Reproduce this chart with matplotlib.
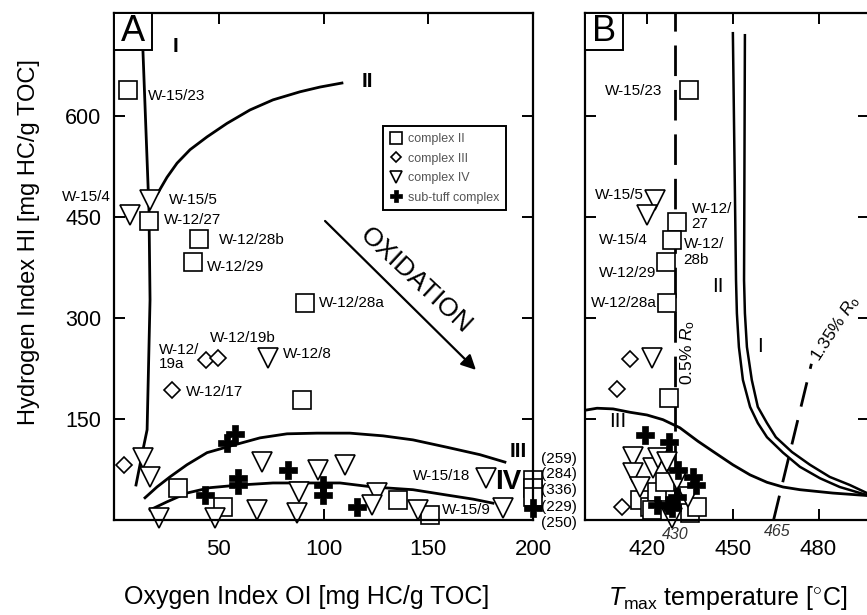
import matplotlib
matplotlib.use('Agg')
import matplotlib.pyplot as plt
from matplotlib.patches import Rectangle

plt.rcParams['font.family'] = ['Liberation Sans', 'DejaVu Sans']
plt.rcParams['mathtext.fontset'] = 'custom'
plt.rcParams['mathtext.rm'] = 'Liberation Sans'
plt.rcParams['mathtext.it'] = 'Liberation Sans:italic'

# ---------------- panel A data (OI, HI) ----------------
c2_oi = [6.7, 16.7, 40.6, 37.7, 91.2, 89.7, 30.5, 52, 135.6, 150.8, 200, 200, 200]
c2_hi = [639, 444, 417, 383, 322, 178, 48, 19, 30, 7, 60, 47, 34]
c3_oi = [43.9, 49.6, 27.7, 4.8]
c3_hi = [238, 241, 193, 82]
c4_oi = [17.2, 7.6, 73.5, 13.8, 17.2, 21.5, 48.2, 70.6, 68.3, 88.3, 87.4, 97.4,
         110.3, 125.5, 123.2, 145, 177.6, 185.7]
c4_hi = [475, 453, 241, 92, 64, 3, 3, 86, 15, 42, 10, 74, 82, 40, 22, 15, 62, 18]
st_oi = [54, 57.8, 59.2, 59.2, 43.4, 83, 99.8, 99.8, 116, 200]
st_hi = [114, 128, 62, 52, 37, 74, 52, 37, 19, 18]

# kerogen type curves (OI, HI)
typeI_oi = [13.8, 16.7, 17.2, 15.8, 13.8, 10.5]
typeI_hi = [698, 460, 327, 134, 104, 52]
typeII_oi = [21, 25.3, 30.1, 36.3, 44.4, 53.9, 64.9, 75.9, 88.8, 98.3, 108.8]
typeII_hi = [486, 509, 530, 550, 569, 589, 609, 624, 636, 643, 649]
typeIII_oi = [14.8, 20.5, 26.7, 34.8, 44.4, 56.8, 69.7, 82.6, 96.9, 112.6, 128.4,
              142.7, 159, 174.7, 186.6]
typeIII_hi = [33, 49, 64, 82, 100, 111, 122, 128, 129, 129, 125, 119, 108, 97, 86]
typeIV_oi = [17.2, 25.3, 34.8, 45.8, 60.1, 75.9, 92.1, 107.9, 123.6, 142.7, 159,
             171.4, 180.9]
typeIV_hi = [15, 27, 40, 48, 52, 55, 55, 55, 49, 45, 37, 31, 25]

# off-scale OI values listed at the right edge
offscale = ['(259)', '(284)', '(336)', '(229)', '(250)']
offscale_hi = [91, 69, 45, 20, -4]

labelsA = [('W-15/23', 16.2, 630, 'left'), ('W-15/5', 26.2, 476, 'left'),
           ('W-15/4', -25, 479, 'left'), ('W-12/27', 23.8, 445, 'left'),
           ('W-12/28b', 50, 416, 'left'), ('W-12/29', 44.3, 376, 'left'),
           ('W-12/28a', 97.6, 323, 'left'), ('W-12/19b', 46, 271, 'left'),
           ('W-12/\n19a', 21.4, 242, 'left'), ('W-12/8', 80.5, 246, 'left'),
           ('W-12/17', 34.3, 190, 'left'), ('W-15/18', 170, 65, 'right'),
           ('W-15/9', 156.7, 15, 'left')]

# ---------------- panel B data (Tmax, HI) ----------------
b2_t = [434.8, 430.6, 428.8, 426.8, 427.1, 427.8, 417.7, 421.2, 423.6, 426.4,
        435.1, 437.6, 421.9]
b2_hi = [639, 443, 416, 383, 322, 181, 30, 19, 42, 56, 10, 19, 15]
b3_t = [414.2, 409.7, 411.4]
b3_hi = [239, 195, 19]
b4_t = [422.9, 420.1, 421.9, 415.2, 415.2, 422.2, 424, 427.1, 417.7, 430.6,
        428.8, 434.4]
b4_hi = [475, 453, 241, 94, 70, 77, 92, 86, 49, 59, 3, 34]
bst_t = [419.4, 427.8, 430.9, 436.2, 437.2, 423.6, 427.5, 430.6, 428.8]
bst_hi = [126, 116, 74, 64, 52, 22, 22, 34, 18]

bII_t = [450.1, 451.2, 451.5, 452.2, 453.6, 456.1, 458.8, 462, 467.6, 473.5,
         480.5, 487.4, 496.9, 498]
bII_hi = [723, 356, 307, 257, 208, 168, 144, 123, 100, 79, 62, 49, 37, 36]
bI_t = [454.3, 454, 454.3, 455, 456.7, 458.8, 462, 465.1, 470.7, 477, 483.9,
        490.9, 496.9, 498]
bI_hi = [720, 356, 307, 257, 208, 168, 144, 123, 101, 82, 64, 52, 40, 38]
bIII_t = [398.5, 402.7, 408.3, 414.2, 420.1, 425.7, 431.6, 437.9, 443.8, 450.1,
          456.1, 462, 467.6, 473.5, 485, 498]
bIII_hi = [163, 166, 165, 160, 156, 149, 137, 117, 100, 82, 67, 56, 49, 45, 40, 36]
ro05_t = [430, 430]
ro05_hi = [0, 753]
ro135_t = [464.3, 477.5]
ro135_hi = [0, 232]

labelsB = [('W-15/23', 425.6, 637, 'right'), ('W-15/5', 419, 482, 'right'),
           ('W-15/4', 412, 416, 'center'), ('W-12/\n27', 435.7, 451, 'left'),
           ('W-12/\n28b', 432.9, 398, 'left'), ('W-12/29', 423.5, 367, 'right'),
           ('W-12/28a', 423.6, 322, 'right')]

sq = dict(marker='s', ms=13, mfc='white', mec='black', mew=1.2, ls='none', clip_on=False)
di = dict(marker='D', ms=8, mfc='white', mec='black', mew=1.2, ls='none', clip_on=False)
tr = dict(marker='v', ms=14, mfc='white', mec='black', mew=1.2, ls='none', clip_on=False)
pl = dict(marker='P', ms=13, mfc='black', mec='black', mew=0.5, ls='none', clip_on=False)

fig = plt.figure(figsize=(8.67, 6.15), dpi=100)
axA = fig.add_axes([114 / 867, 95 / 615, 419 / 867, 507 / 615])
axB = fig.add_axes([585 / 867, 95 / 615, 284 / 867, 507 / 615])

# ---------------- panel A ----------------
for xs, ys in [(typeI_oi, typeI_hi), (typeII_oi, typeII_hi),
               (typeIII_oi, typeIII_hi), (typeIV_oi, typeIV_hi)]:
    axA.plot(xs, ys, color='black', lw=2, solid_joinstyle='round')

hA2, = axA.plot(c2_oi, c2_hi, label='complex II', **sq)
hA3, = axA.plot(c3_oi, c3_hi, label='complex III', **di)
hA4, = axA.plot(c4_oi, c4_hi, label='complex IV', **tr)
hAs, = axA.plot(st_oi, st_hi, label='sub-tuff complex', **pl)

for txt, x, y, ha in labelsA:
    axA.text(x, y, txt, fontsize=11, ha=ha, va='center', clip_on=False, linespacing=1.0)

axA.text(29.5, 703, 'I', fontsize=15, fontweight='bold', ha='center', va='center')
axA.text(121, 652, 'II', fontsize=15, fontweight='bold', ha='center', va='center')
axA.text(193, 101, 'III', fontsize=15, fontweight='bold', ha='center', va='center')
axA.text(188, 57, 'IV', fontsize=20, fontweight='bold', ha='center', va='center')

for txt, y in zip(offscale, offscale_hi):
    axA.text(204, y, txt, fontsize=11, ha='left', va='center', clip_on=False)

axA.annotate('', xy=(173.7, 220), xytext=(99.8, 447),
             arrowprops=dict(arrowstyle='-|>', lw=1.6, color='black', mutation_scale=22))
axA.text(144, 356, 'OXIDATION', fontsize=19, rotation=-43, ha='center', va='center',
         rotation_mode='anchor')

axA.set_xlim(0, 200)
axA.set_ylim(0, 753)
axA.set_xticks([50, 100, 150, 200])
axA.set_yticks([150, 300, 450, 600])
axA.tick_params(direction='in', length=8, width=1.4, top=True, right=True)
axA.tick_params(axis='x', labelsize=16, pad=14)
axA.tick_params(axis='y', labelsize=15.5, pad=9)
leg = axA.legend(handles=[hA2, hA3, hA4, hAs], loc='upper right',
                 bbox_to_anchor=(0.95, 0.789), fontsize=9, markerscale=0.62,
                 fancybox=False, edgecolor='black', framealpha=1, labelcolor='#555555',
                 handlelength=1.0, handletextpad=0.45, borderpad=0.55, labelspacing=0.6)
leg.get_frame().set_linewidth(1.4)

# ---------------- panel B ----------------
axB.plot(bII_t, bII_hi, color='black', lw=1.8, solid_joinstyle='round')
axB.plot(bI_t, bI_hi, color='black', lw=1.8, solid_joinstyle='round')
axB.plot(bIII_t, bIII_hi, color='black', lw=2, solid_joinstyle='round')
axB.plot(ro05_t, ro05_hi, color='black', lw=2, dashes=(11, 5))
axB.plot(ro135_t, ro135_hi, color='black', lw=2, dashes=(9, 5))

axB.plot(b2_t, b2_hi, **sq)
axB.plot(b3_t, b3_hi, **di)
axB.plot(b4_t, b4_hi, **tr)
axB.plot(bst_t, bst_hi, **pl)

for txt, x, y, ha in labelsB:
    axB.text(x, y, txt, fontsize=11, ha=ha, va='center', linespacing=1.1)

axB.text(445, 347, 'II', fontsize=15, ha='center', va='center')
axB.text(459.7, 257, 'I', fontsize=15, ha='center', va='center')
axB.text(410, 146, 'III', fontsize=15, ha='center', va='center')
axB.text(434.3, 249, r'0.5% $R_{\rm o}$', fontsize=12.5, rotation=90, ha='center', va='center')
axB.text(485.8, 284, r'1.35% $R_{\rm o}$', fontsize=12.5, rotation=57, ha='center', va='center')
axB.text(430, -22, '430', fontsize=11.5, style='italic', color='#333333',
         ha='center', va='center', clip_on=False)
axB.text(465.5, -17, '465', fontsize=11.5, style='italic', color='#333333',
         ha='center', va='center', clip_on=False)

axB.set_xlim(398.5, 497.6)
axB.set_ylim(0, 753)
axB.set_xticks([420, 450, 480])
axB.set_yticks([150, 300, 450, 600])
axB.tick_params(direction='in', length=8, width=1.4, top=True, right=True,
                labelleft=False)
axB.tick_params(axis='x', labelsize=16, pad=14)

for ax, letter in [(axA, 'A'), (axB, 'B')]:
    for s in ax.spines.values():
        s.set_linewidth(1.6)
    w = 38 / (ax.get_position().width * 867)
    h = 37 / (507)
    ax.add_patch(Rectangle((0, 1 - h), w, h, transform=ax.transAxes,
                           facecolor='white', edgecolor='black', lw=1.4, zorder=5))
    ax.text(w / 2, 1 - h / 2, letter, transform=ax.transAxes, fontsize=26,
            ha='center', va='center', zorder=6)

fig.text(307 / 867, 1 - 597 / 615, 'Oxygen Index OI [mg HC/g TOC]', fontsize=18,
         ha='center', va='center')
fig.text(728 / 867, 1 - 598 / 615, r'$T_{\rm max}$ temperature [$^{\circ}$C]',
         fontsize=18, ha='center', va='center')
fig.text(29 / 867, 1 - 242 / 615, 'Hydrogen Index HI [mg HC/g TOC]', fontsize=17,
         rotation=90, ha='center', va='center')

fig.savefig('out.png', dpi=100)
